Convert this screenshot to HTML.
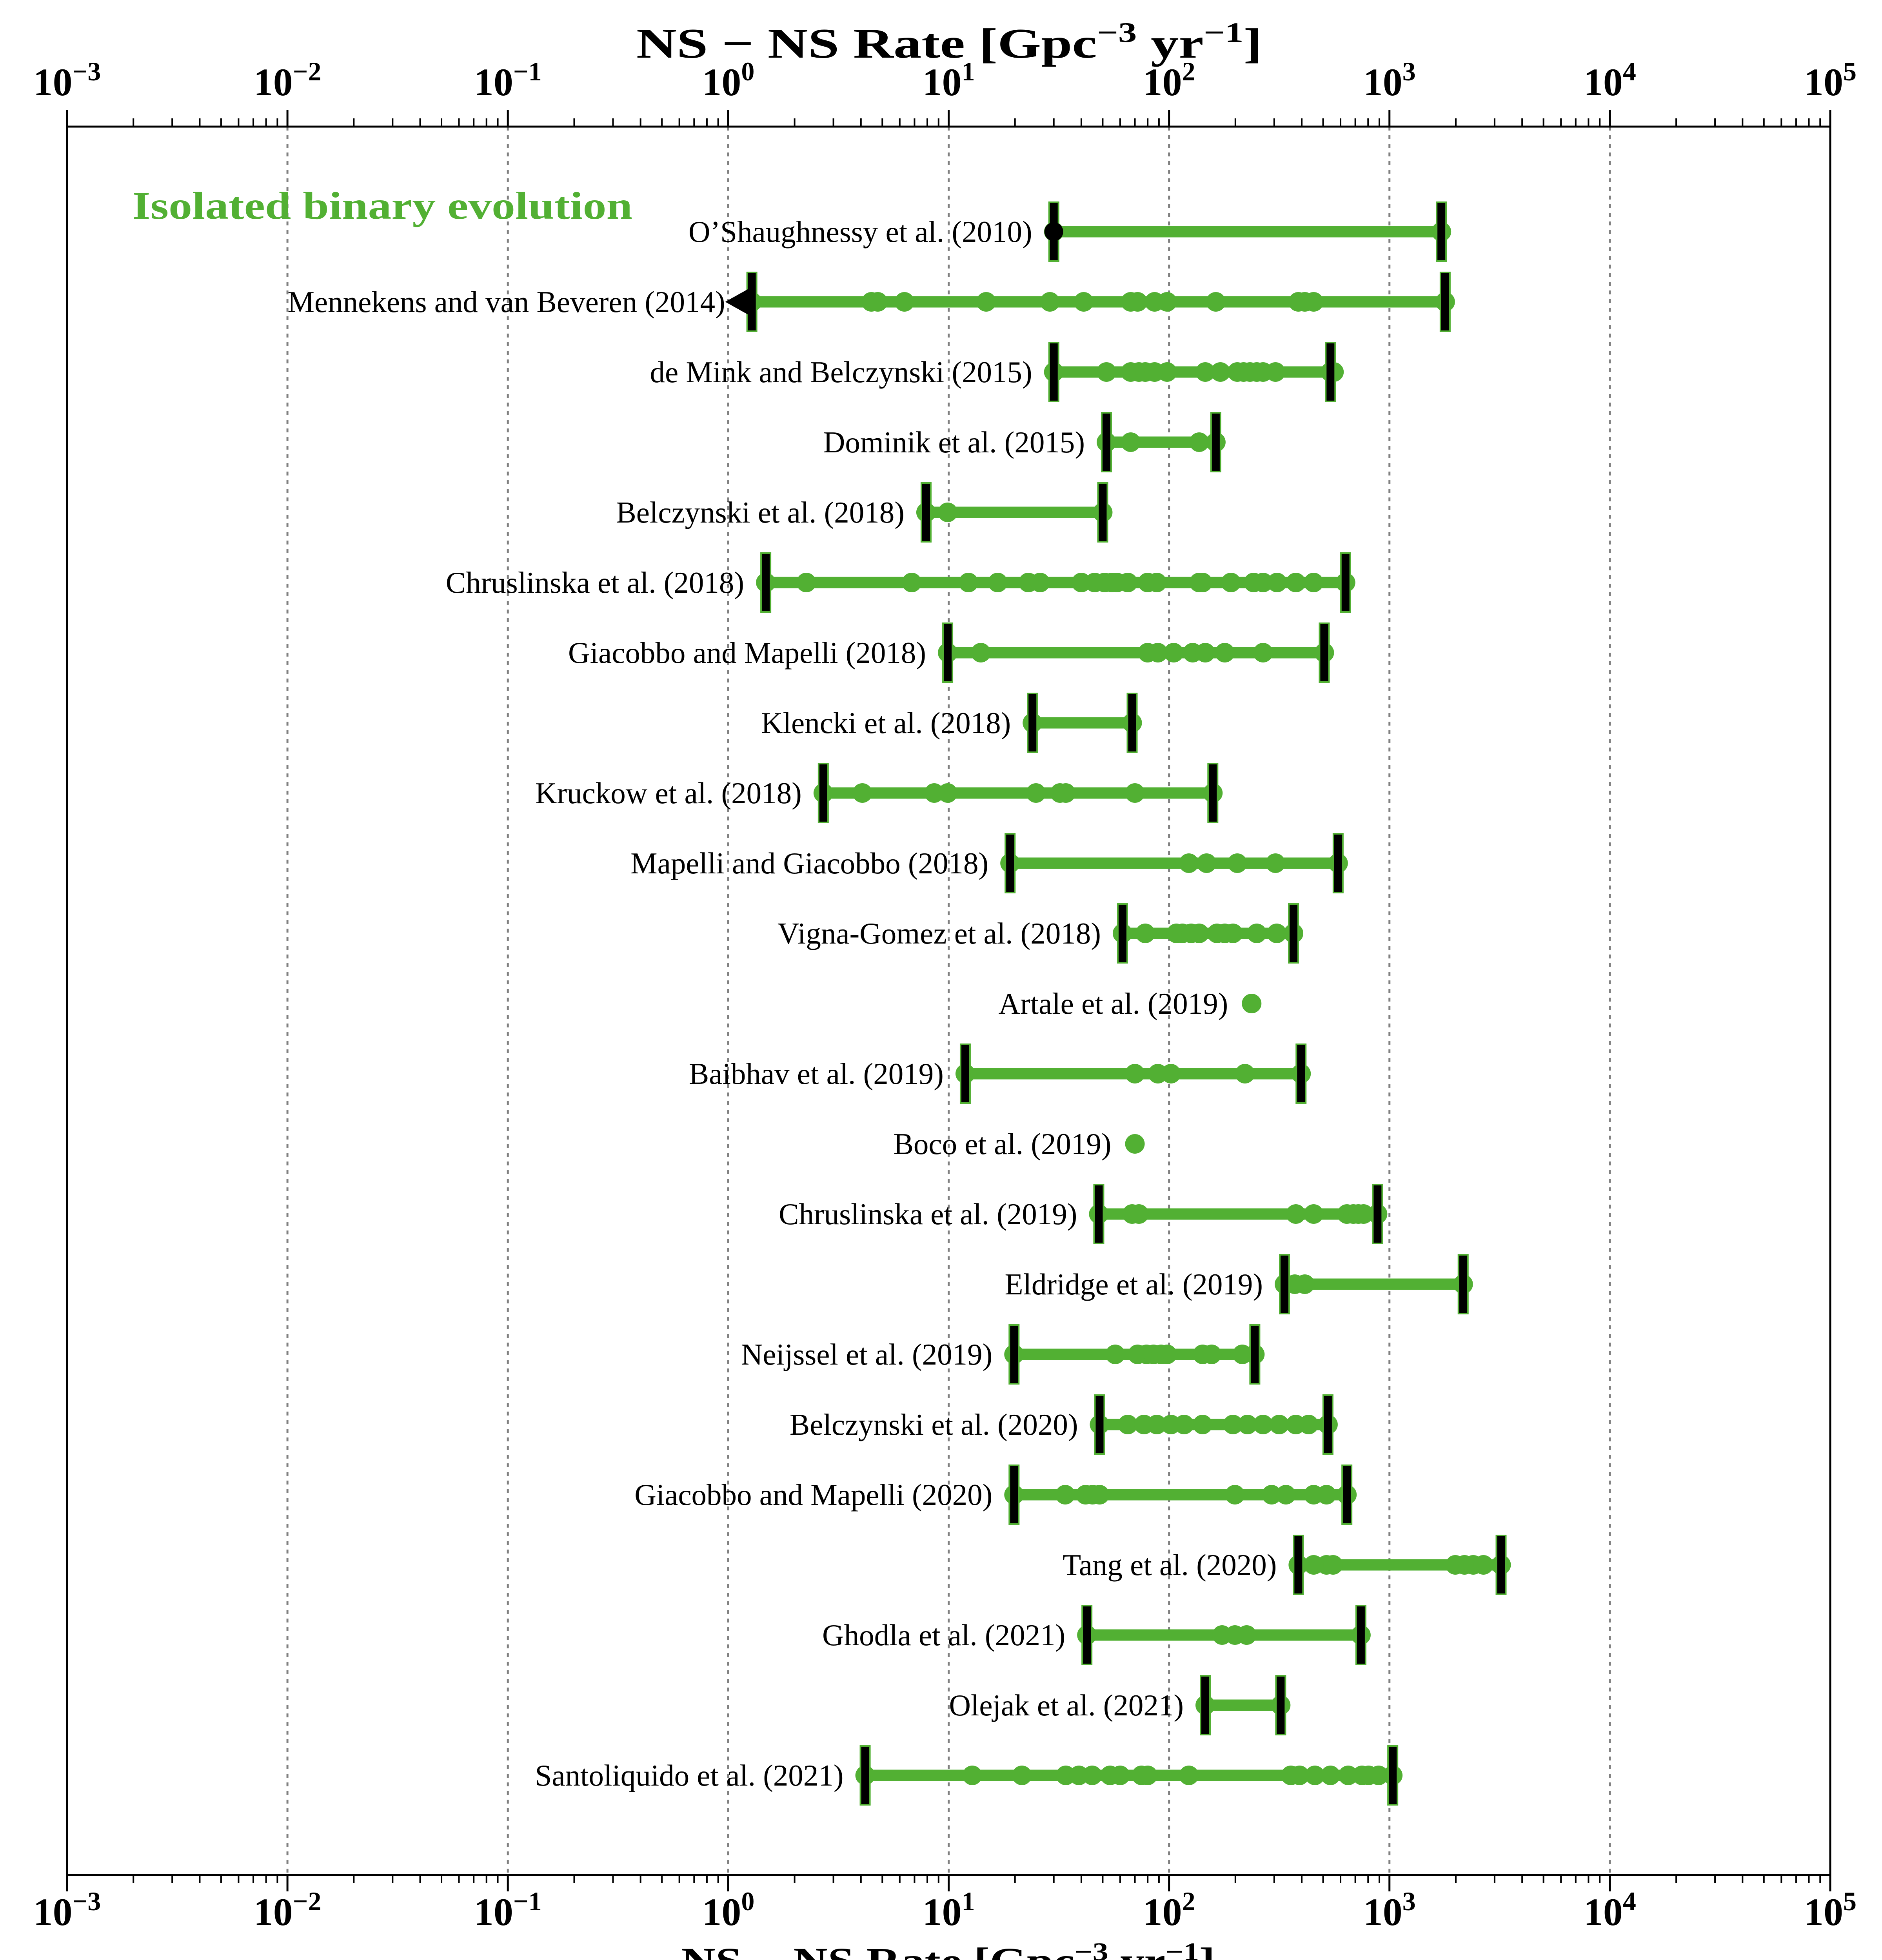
<!DOCTYPE html>
<html><head><meta charset="utf-8">
<style>
html,body{margin:0;padding:0;background:#fff;width:4800px;height:5100px;overflow:hidden;}
svg{display:block;}
</style></head>
<body>
<svg id="chart" width="4800" height="5100" viewBox="0 0 4800 5100" xmlns="http://www.w3.org/2000/svg">
<rect x="0" y="0" width="4800" height="5100" fill="#fff"/>
<g id="grid"></g>
<g id="series"></g>
<g id="axes"></g>
<text x="337" y="558" font-family="Liberation Serif, serif" font-weight="bold" font-size="100" fill="#52b033" textLength="1276" lengthAdjust="spacingAndGlyphs">Isolated binary evolution</text>
<text x="1623" y="147" font-family="Liberation Serif, serif" font-weight="bold" font-size="108" textLength="1596" lengthAdjust="spacingAndGlyphs">NS − NS  Rate [Gpc<tspan baseline-shift="super" font-size="72">−3</tspan> yr<tspan baseline-shift="super" font-size="72">−1</tspan>]</text>
<text x="1737" y="5037" font-family="Liberation Serif, serif" font-weight="bold" font-size="100" textLength="1362" lengthAdjust="spacingAndGlyphs">NS − NS  Rate [Gpc<tspan baseline-shift="super" font-size="66">−3</tspan> yr<tspan baseline-shift="super" font-size="66">−1</tspan>]</text>
</svg>
<script>
const studies = ["O\u2019Shaughnessy et al. (2010)","Mennekens and van Beveren (2014)","de Mink and Belczynski (2015)","Dominik et al. (2015)","Belczynski et al. (2018)","Chruslinska et al. (2018)","Giacobbo and Mapelli (2018)","Klencki et al. (2018)","Kruckow et al. (2018)","Mapelli and Giacobbo (2018)","Vigna-Gomez et al. (2018)","Artale et al. (2019)","Baibhav et al. (2019)","Boco et al. (2019)","Chruslinska et al. (2019)","Eldridge et al. (2019)","Neijssel et al. (2019)","Belczynski et al. (2020)","Giacobbo and Mapelli (2020)","Tang et al. (2020)","Ghodla et al. (2021)","Olejak et al. (2021)","Santoliquido et al. (2021)"];
const rangeMin = [30,1.28,30,52,7.9,1.48,9.9,24,2.7,19,61.5,null,11.9,null,48,334,19.8,48.4,19.8,386,42.4,146,4.18];
const rangeMax = [1720,1790,540,163,50,632,506,68,158,585,367,null,397,null,883,2160,245,526,641,3210,742,321,1035];
const points = [
 [30,1720],
 [1.28,4.46,4.77,6.3,14.8,28.8,41,67,72,86,98,163,386,413,453,1790],
 [30,52,67,73,78,86,98,146,171,204,218,233,250,267,304,540,560],
 [52,67,137,163],
 [7.9,9.9,50],
 [1.48,2.26,6.8,12.3,16.7,23,26,40,46,51,55,58,65,80,88,137,142,191,242,267,309,376,453,632],
 [9.9,14,80,89,105,128,146,179,267,506],
 [24,68],
 [2.7,4.06,8.6,9.9,24.9,32,34,70,158],
 [19,123,148,204,304,585],
 [61.5,78,108,115,126,137,165,179,195,250,308,367],
 [237],
 [11.9,70,89,102,221,397],
 [70],
 [48,68,73,376,453,641,686,723,763,883],
 [334,372,413,2160],
 [19.8,57,72,79,85,92,98,142,156,215,245],
 [48.4,65,77,88,102,117,142,195,227,267,316,376,430,526],
 [19.8,33.8,41.8,45,48.4,199,292,339,453,518,641],
 [386,453,518,555,1990,2190,2400,2670,3210],
 [42.4,174,199,225,742],
 [146,321],
 [4.18,12.8,21.5,34,39,44.8,54,60,75,80,123,357,391,459,540,650,751,804,893,1035]
];
const upperLimitRow = [false,true,false,false,false,false,false,false,false,false,false,false,false,false,false,false,false,false,false,false,false,false,false];
const minMarkerCircle = [true,false,false,false,false,false,false,false,false,false,false,false,false,false,false,false,false,false,false,false,false,false,false];
const decades = [-3,-2,-1,0,1,2,3,4,5];

const NS="http://www.w3.org/2000/svg";
const L=171,R=4668,T=323,B=4783;
const GREEN="#52b033";
function xs(v){return L+(Math.log10(v)+3)/8*(R-L);}
function ys(i){return 591+i*179;}
function mk(tag,attrs,parent){const e=document.createElementNS(NS,tag);for(const k in attrs)e.setAttribute(k,attrs[k]);parent.appendChild(e);return e;}
const grid=document.getElementById('grid'),series=document.getElementById('series'),axes=document.getElementById('axes');

decades.slice(1,-1).forEach(d=>{
  const x=xs(Math.pow(10,d));
  const g=mk('line',{x1:x,x2:x,y1:T,y2:B,stroke:'#808080','stroke-width':5,'stroke-dasharray':'10,12'},grid);
  
  
});

studies.forEach((name,i)=>{
  const y=ys(i);
  const g=mk('g',{},series);
  
  
  const pts=points[i];
  let labelX;
  if(rangeMin[i]!==null){
    const x0=xs(rangeMin[i]),x1=xs(rangeMax[i]);
    const ln=mk('line',{x1:x0,x2:x1,y1:y,y2:y,stroke:GREEN,'stroke-width':29},g);
    
    
    labelX=x0-(upperLimitRow[i]?68:55);
  } else {
    labelX=xs(pts[0])-60;
  }
  pts.forEach(v=>{
    const c=mk('circle',{cx:xs(v),cy:y,r:25,fill:GREEN},g);
    
    
  });
  if(rangeMin[i]!==null){
    [rangeMin[i],rangeMax[i]].forEach((v,k)=>{
      const x=xs(v);
      const cap=mk('rect',{x:x-12,y:y-75,width:24,height:150,fill:'#000',stroke:GREEN,'stroke-width':4},g);
      
      
    });
    if(upperLimitRow[i]){
      const x=xs(rangeMin[i]);
      const tri=mk('polygon',{points:(x-68)+','+y+' '+(x)+','+(y-38)+' '+(x)+','+(y+38),fill:'#000'},g);
      
      
    }
    if(minMarkerCircle[i]){
      const c=mk('circle',{cx:xs(rangeMin[i]),cy:y,r:24,fill:'#000'},g);
      
      
    }
  }
  const t=mk('text',{x:labelX,y:y+26,'text-anchor':'end','font-family':'Liberation Serif, serif','font-size':77,fill:'#000'},g);
  t.textContent=name;
  
  
});

const frame=mk('rect',{x:L,y:T,width:R-L,height:B-T,fill:'none',stroke:'#000','stroke-width':5},axes);



decades.forEach((d,di)=>{
  const x=xs(Math.pow(10,d));
  const tt=mk('line',{x1:x,x2:x,y1:T,y2:T-42,stroke:'#000','stroke-width':5},axes);
  
  
  const tb=mk('line',{x1:x,x2:x,y1:B,y2:B+42,stroke:'#000','stroke-width':5},axes);
  
  
  [243,4911].forEach((ly,k)=>{
    const t=mk('text',{x:x,y:ly,'text-anchor':'middle','font-family':'Liberation Serif, serif','font-weight':'bold','font-size':100},axes);
    
    
    const a=document.createElementNS(NS,'tspan');a.textContent='10';t.appendChild(a);
    const b=document.createElementNS(NS,'tspan');b.setAttribute('baseline-shift','super');b.setAttribute('font-size','68');
    b.textContent=(d<0?'\u2212':'')+Math.abs(d);t.appendChild(b);
  });
  if(di<decades.length-1){
    for(let m=2;m<=9;m++){
      const xm=xs(m*Math.pow(10,d));
      const a=mk('line',{x1:xm,x2:xm,y1:T,y2:T-21,stroke:'#000','stroke-width':4},axes);
      
      
      const b=mk('line',{x1:xm,x2:xm,y1:B,y2:B+21,stroke:'#000','stroke-width':4},axes);
      
      
    }
  }
});
</script>
</body></html>
